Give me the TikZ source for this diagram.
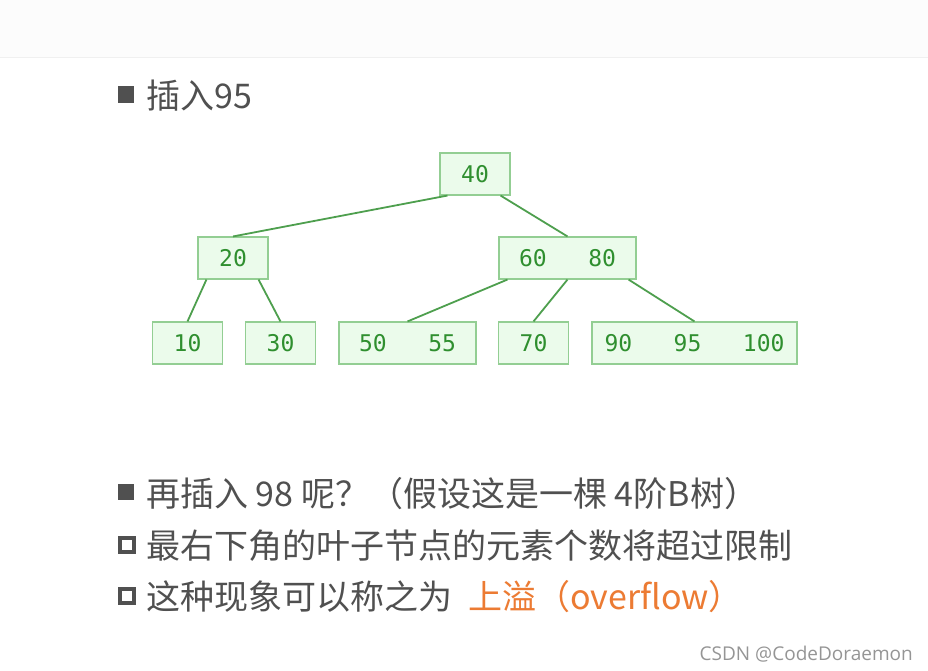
\documentclass[tikz,border=0pt]{standalone}
\usepackage{fontspec}
\newfontfamily\cjk{Noto Sans CJK SC}
\newfontfamily\keyfont{DejaVu Sans Mono}
\newfontfamily\markfont{Open Sans}
\definecolor{boxfill}{HTML}{EBFBEB}
\definecolor{boxline}{HTML}{93CE93}
\definecolor{keytext}{HTML}{2F8F2F}
\definecolor{linkcol}{HTML}{4E9F4E}
\definecolor{textgray}{HTML}{505050}
\definecolor{overflow}{HTML}{EC7B33}
\definecolor{markgray}{HTML}{959595}
\definecolor{topband}{HTML}{FCFCFC}
\definecolor{topline}{HTML}{F0F0F0}
\begin{document}
\begin{tikzpicture}[x=1pt, y=-1pt,
    key/.style={draw=boxline, fill=boxfill, text=keytext, line width=1.1pt, minimum height=42pt, minimum width=70pt, inner sep=0pt, font=\keyfont\fontsize{23}{23}\selectfont},
    link/.style={draw=linkcol, line width=1.8pt},
    line/.style={anchor=base west, text=textgray, inner sep=0pt, font=\cjk\fontsize{34}{34}\selectfont},
    full/.style={fill=textgray, minimum size=16.5pt, inner sep=0pt},
    hollow/.style={draw=textgray, line width=3.8pt, minimum size=14.2pt, inner sep=0pt}]
    \useasboundingbox (0,0) rectangle (928,670);
    % Slide header band
    \fill[topband] (0,0) rectangle (928,57);
    \draw[topline] (0,57.5) -- (928,57.5);

    % Heading
    \node[full] (b1) at (126,94.5) {};
    \node[line] (t1) at (146,108) {插入95};

    % Root and inner level
    \node[key] (k40) at (475,174) {40};
    \node[key] (k20) at (233,258) {20};
    \node[key, minimum width=137pt] (k6080) at (567.5,258) {60~~~80};

    % Leaves
    \node[key] (k10) at (187.5,343) {10};
    \node[key] (k30) at (280.5,343) {30};
    \node[key, minimum width=137pt] (k5055) at (407.5,343) {50~~~55};
    \node[key] (k70) at (533.5,343) {70};
    \node[key, minimum width=205pt] (k9095) at (694.5,343) {90~~~95~~~100};

    % Child pointers
    \draw[link] ([xshift=8pt]k40.south west) -- (k20.north);
    \draw[link] ([xshift=-10pt]k40.south east) -- (k6080.north);
    \draw[link] ([xshift=9pt]k20.south west) -- (k10.north);
    \draw[link] ([xshift=-10pt]k20.south east) -- (k30.north);
    \draw[link] ([xshift=9pt]k6080.south west) -- (k5055.north);
    \draw[link] (k6080.south) -- (k70.north);
    \draw[link] ([xshift=-8pt]k6080.south east) -- (k9095.north);

    % Question and remarks
    \node[full] (b2) at (126,492) {};
    \node[line] (t2) at (146,506) {再插入 98 呢？（假设这是一棵 4阶B树）};
    \node[hollow] (b3) at (127,545) {};
    \node[line] (t3) at (146,558) {最右下角的叶子节点的元素个数将超过限制};
    \node[hollow] (b4) at (127,596) {};
    \node[line] (t4) at (146,609) {这种现象可以称之为};
    \node[line, text=overflow] (t5) at (468,609) {上溢（overflow）};

    % Watermark
    \node[anchor=base east, inner sep=0pt, text=markgray, font=\markfont\fontsize{19}{19}\selectfont] (mark) at (913,660) {CSDN @CodeDoraemon};
\end{tikzpicture}
\end{document}
